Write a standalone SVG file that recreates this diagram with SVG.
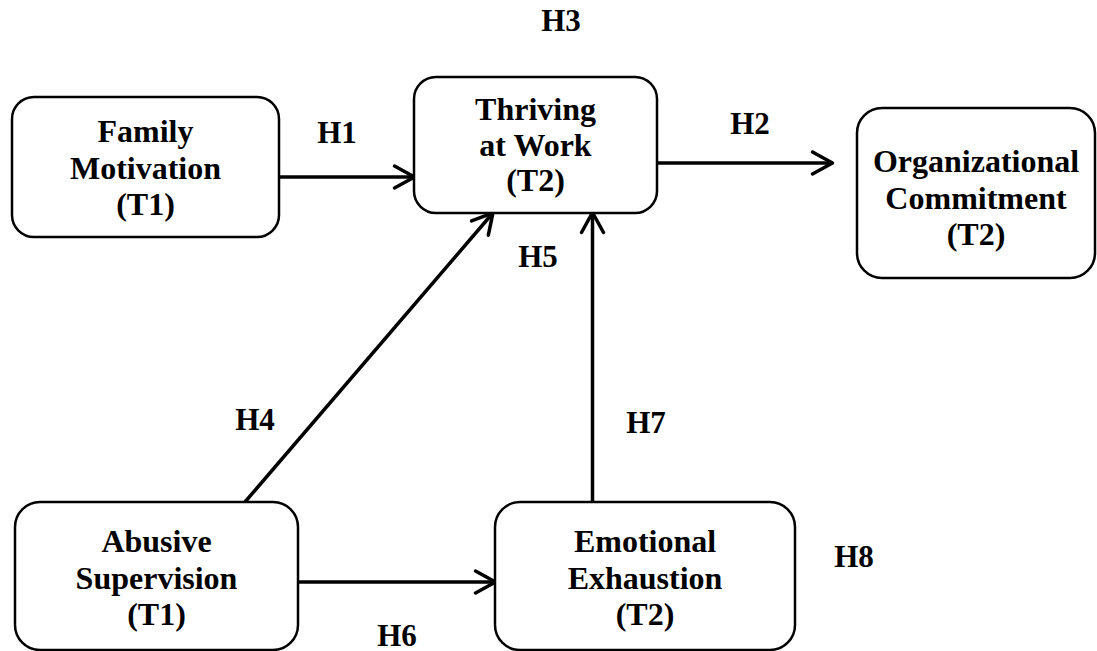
<svg xmlns="http://www.w3.org/2000/svg" width="1097" height="651" viewBox="0 0 1097 651">
  <style>
    .box { fill: #ffffff; stroke: #000000; stroke-width: 2.5; }
    .t { font-family: 'Liberation Serif', 'Times New Roman', serif; font-weight: 700; font-size: 31px; fill: #000000; text-anchor: middle; }
    .n { font-size: 32px; }
    .edge { stroke: #000000; stroke-width: 3.5; fill: none; }
  </style>
  <defs>
    <marker id="arrow" markerUnits="userSpaceOnUse" markerWidth="30" markerHeight="30" viewBox="-25 -15 30 30" refX="-1.5" refY="0" orient="auto">
      <path d="M -20 -11 L 0 0 L -20 11" fill="none" stroke="#000000" stroke-width="3.5" stroke-linejoin="round" stroke-linecap="round"/>
    </marker>
  </defs>
  <rect width="1097" height="651" fill="#ffffff"/>

  <g id="connectors">
    <line class="edge" x1="279" y1="177" x2="413" y2="177" marker-end="url(#arrow)"/>
    <line class="edge" x1="657" y1="163" x2="831" y2="163" marker-end="url(#arrow)"/>
    <line class="edge" x1="245" y1="502" x2="492" y2="214" marker-end="url(#arrow)"/>
    <line class="edge" x1="592.5" y1="502" x2="592.5" y2="214" marker-end="url(#arrow)"/>
    <line class="edge" x1="298" y1="582" x2="494" y2="582" marker-end="url(#arrow)"/>
  </g>

  <g id="node-family">
    <rect class="box" x="12" y="97" width="267" height="140" rx="22" ry="22"/>
    <text class="t n" x="145.5" y="142">Family</text>
    <text class="t n" x="145.5" y="179">Motivation</text>
    <text class="t n" x="145.5" y="215">(T1)</text>
  </g>

  <g id="node-thriving">
    <rect class="box" x="414" y="77" width="243" height="136" rx="22" ry="22"/>
    <text class="t n" x="535.5" y="120">Thriving</text>
    <text class="t n" x="535.5" y="156">at Work</text>
    <text class="t n" x="535.5" y="191">(T2)</text>
  </g>

  <g id="node-commitment">
    <rect class="box" x="857" y="108" width="238" height="170" rx="25" ry="25"/>
    <text class="t n" x="976" y="172">Organizational</text>
    <text class="t n" x="976" y="209">Commitment</text>
    <text class="t n" x="976" y="245">(T2)</text>
  </g>

  <g id="node-abusive">
    <rect class="box" x="15" y="502" width="283" height="148" rx="25" ry="25"/>
    <text class="t n" x="156.5" y="552">Abusive</text>
    <text class="t n" x="156.5" y="589">Supervision</text>
    <text class="t n" x="156.5" y="625">(T1)</text>
  </g>

  <g id="node-exhaustion">
    <rect class="box" x="495" y="502" width="300" height="148" rx="25" ry="25"/>
    <text class="t n" x="645" y="552">Emotional</text>
    <text class="t n" x="645" y="589">Exhaustion</text>
    <text class="t n" x="645" y="625">(T2)</text>
  </g>

  <g id="labels">
    <text class="t" x="337" y="143">H1</text>
    <text class="t" x="750" y="134">H2</text>
    <text class="t" x="561" y="31">H3</text>
    <text class="t" x="255" y="430">H4</text>
    <text class="t" x="538" y="267">H5</text>
    <text class="t" x="397" y="646">H6</text>
    <text class="t" x="646" y="433">H7</text>
    <text class="t" x="854" y="567">H8</text>
  </g>
</svg>
